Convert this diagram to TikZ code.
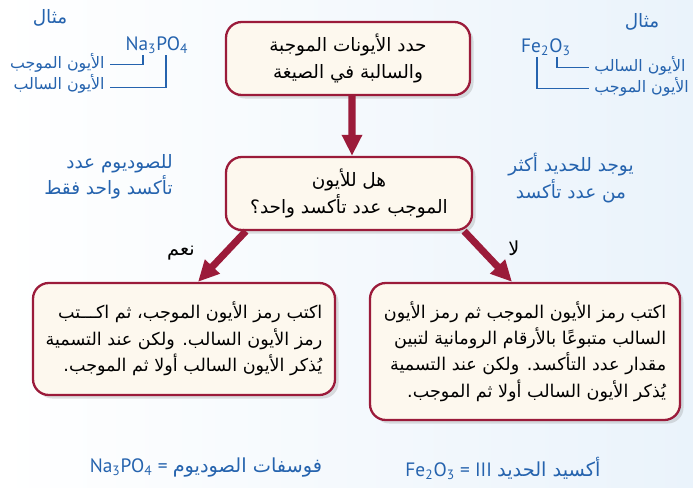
\documentclass[tikz,border=0pt]{standalone}
\usepackage{fontspec}
\setmainfont{PT Sans}
\newfontfamily\arabicfont[Script=Arabic]{DejaVu Sans}
\TeXXeTstate=1
\usetikzlibrary{arrows.meta, positioning, calc, shadows}
\definecolor{boxred}{HTML}{9B1B3A}
\definecolor{boxfill}{HTML}{FDF8EE}
\definecolor{noteblue}{HTML}{2563AE}
\definecolor{bgblue}{HTML}{EAF3FB}
\newcommand{\artext}[1]{\beginR #1\endR}
\tikzset{
    stepbox/.style={rectangle, rounded corners=9pt, draw=boxred, line width=1.3pt, fill=boxfill, align=center, font=\arabicfont\fontsize{10.5}{15}\selectfont, drop shadow={opacity=0.25, shadow xshift=2pt, shadow yshift=-2pt}},
    textbox/.style={stepbox, align=right, font=\arabicfont\fontsize{10}{15}\selectfont},
    arrow/.style={line width=4pt, color=boxred, -{Triangle[length=12pt, width=11pt]}},
    note/.style={text=noteblue, font=\arabicfont\fontsize{10.5}{15}\selectfont, align=right, inner sep=0pt},
    ionlabel/.style={note, font=\arabicfont\fontsize{9}{11}\selectfont},
    formula/.style={text=noteblue, font=\fontsize{11}{13}\selectfont, inner sep=0pt},
    bracket/.style={noteblue, line width=0.6pt}
}

\begin{document}
\begin{tikzpicture}
    \useasboundingbox (0,0) rectangle (13.86,-9.76);
    \shade[left color=white, right color=bgblue] (0,0) rectangle (13.86,-9.76);

    % main flow
    \node (find) [stepbox, minimum width=4.88cm, minimum height=1.46cm] at (6.96,-1.17) {\artext{حدد الأيونات الموجبة}\\\artext{والسالبة في الصيغة}};
    \node (ask) [stepbox, minimum width=4.92cm, minimum height=1.46cm] at (6.98,-3.87) {\artext{هل للأيون}\\\artext{الموجب عدد تأكسد واحد؟}};
    \node (single) [textbox, minimum width=6.04cm, minimum height=2.24cm] at (3.68,-6.78) {\artext{اكتب رمز الأيون الموجب، ثم اكـــتب}\\\artext{رمز الأيون السالب. ولكن عند التسمية}\\\artext{يُذكر الأيون السالب أولا ثم الموجب.}};
    \node (multi) [textbox, minimum width=6.2cm, minimum height=2.74cm] at (10.5,-7.03) {\artext{اكتب رمز الأيون الموجب ثم رمز الأيون}\\\artext{السالب متبوعًا بالأرقام الرومانية لتبين}\\\artext{مقدار عدد التأكسد. ولكن عند التسمية}\\\artext{يُذكر الأيون السالب أولا ثم الموجب.}};

    \draw [arrow] ($(find.south)+(0.08,0)$) -- ($(ask.north)+(0.06,0)$);
    \draw [arrow] ($(ask.south west)+(0.42,0)$) -- ($(single.north)+(0.28,0)$);
    \draw [arrow] ($(ask.south east)+(-0.18,0)$) -- ($(multi.north)+(-0.26,0)$);

    \node (yes) [font=\arabicfont\fontsize{11}{13}\selectfont] at (3.62,-5.06) {\artext{نعم}};
    \node (no) [font=\arabicfont\fontsize{11}{13}\selectfont] at (10.28,-4.96) {\artext{لا}};

    % side notes
    \node (sodiumnote) [note, anchor=east] at (3.46,-3.54) {\artext{للصوديوم عدد}\\\artext{تأكسد واحد فقط}};
    \node (ironnote) [note, align=center] at (11.42,-3.56) {\artext{يوجد للحديد أكثر}\\\artext{من عدد تأكسد}};

    % example left
    \node (exL) [note] at (1.0,-0.36) {\artext{مثال}};
    \node (naform) [formula] at (3.14,-0.9) {Na\textsubscript{3}PO\textsubscript{4}};
    \node (catL) [ionlabel, anchor=east] at (2.1,-1.26) {\artext{الأيون الموجب}};
    \node (anL) [ionlabel, anchor=east] at (2.1,-1.68) {\artext{الأيون السالب}};
    \coordinate (naCat) at (2.86,-1.1);
    \coordinate (naAn) at (3.32,-1.1);
    \draw [bracket] ([xshift=3pt,yshift=-1pt]catL.east) -| (naCat);
    \draw [bracket] ([xshift=3pt,yshift=-2pt]anL.east) -| (naAn);

    % example right
    \node (exR) [note] at (12.84,-0.44) {\artext{مثال}};
    \node (feform) [formula] at (10.92,-0.94) {Fe\textsubscript{2}O\textsubscript{3}};
    \node (anR) [ionlabel, anchor=west] at (11.88,-1.32) {\artext{الأيون السالب}};
    \node (catR) [ionlabel, anchor=west] at (11.88,-1.74) {\artext{الأيون الموجب}};
    \coordinate (feAn) at (11.14,-1.14);
    \coordinate (feCat) at (10.74,-1.14);
    \draw [bracket] (feAn) |- ([xshift=-3pt,yshift=-1pt]anR.west);
    \draw [bracket] (feCat) |- ([xshift=-3pt,yshift=-1pt]catR.west);

    % names
    \node (naname) [formula] at (4.12,-9.36) {Na\textsubscript{3}PO\textsubscript{4} = {\arabicfont\artext{فوسفات الصوديوم}}};
    \node (fename) [formula] at (10.06,-9.36) {Fe\textsubscript{2}O\textsubscript{3} = III {\arabicfont\artext{أكسيد الحديد}}};
\end{tikzpicture}
\end{document}
